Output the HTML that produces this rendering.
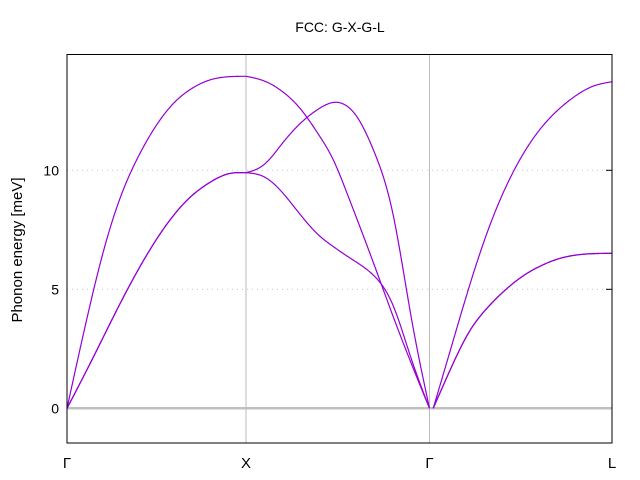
<!DOCTYPE html>
<html><head><meta charset="utf-8"><style>
body{margin:0;background:#fff;}
svg{display:block;font-family:"Liberation Sans",sans-serif;}
</style></head><body>
<svg id="chart" width="640" height="480">
<text x="340" y="32" text-anchor="middle" font-size="14">FCC: G-X-G-L</text>
<text transform="translate(22,250) rotate(-90)" text-anchor="middle" font-size="15">Phonon energy [meV]</text>
<g id="grid"></g><g id="series"></g><g id="axes"></g>
</svg>
<script>
const yTicks=[0,5,10];
const xLabels=["Γ","X","Γ","L"];
const xLabelPos=[0,1,2.025,3.045];
const seg1U=[0,0.1,0.2,0.3,0.4,0.5,0.6,0.7,0.8,0.9,1];
const seg1Upper=[0,3.4,6.5,8.9,10.6,11.9,12.85,13.45,13.8,13.93,13.95];
const seg1Lower=[0,1.45,2.95,4.45,5.85,7.1,8.15,8.95,9.5,9.85,9.9];
const seg2U=[0,0.1,0.2,0.3,0.4,0.475,0.55,0.6,0.7,0.8,0.9,1];
const seg2A=[13.95,13.75,13.3,12.55,11.45,10.45,9.05,8.05,6.0,3.9,1.9,0];
const seg2B=[9.9,10.25,11.15,12.0,12.6,12.85,12.7,12.3,10.75,8.2,3.85,0];
const seg2C=[9.9,9.72,9.05,8.1,7.25,6.8,6.4,6.15,5.55,4.35,2.1,0];
const seg3U=[0,0.1,0.2,0.3,0.4,0.5,0.6,0.7,0.8,0.9,1];
const seg3Upper=[0,2.55,5.08,7.35,9.2,10.65,11.75,12.55,13.15,13.55,13.72];
const seg3Lower=[0,1.7,3.2,4.2,4.95,5.55,5.98,6.28,6.44,6.5,6.51];
const segStart=[0,1,2.046], segEnd=[1,2.025,3.045];

const L=67,R=612,T=54.5,B=443;
const xS=x=>L+x*179;
const yS=e=>408.3-e*23.8;
const NS="http://www.w3.org/2000/svg";
function mk(tag,attrs,parent){const el=document.createElementNS(NS,tag);for(const k in attrs)el.setAttribute(k,attrs[k]);parent.appendChild(el);return el;}
const grid=document.getElementById('grid'),series=document.getElementById('series'),axes=document.getElementById('axes');

yTicks.forEach(t=>{
 if(t===0){const l=mk('line',{x1:L,x2:R,y1:yS(t),y2:yS(t),stroke:'#c0c0c0','stroke-width':2.5},grid);
  
  }
 else{const l=mk('line',{x1:L,x2:R,y1:yS(t),y2:yS(t),stroke:'#c8c8c8','stroke-width':1,'stroke-dasharray':'1,4'},grid);
  
  
  const tk=mk('line',{x1:R-6,x2:R,y1:yS(t),y2:yS(t),stroke:'#000'},axes);
  
  }
 const tx=mk('text',{x:L-8,y:yS(t)+5,'text-anchor':'end','font-size':14},axes);
 tx.textContent=t;
 
 
});
xLabels.forEach((s,i)=>{
 if(i>0&&i<xLabels.length-1){const l=mk('line',{x1:xS(xLabelPos[i]),x2:xS(xLabelPos[i]),y1:T,y2:B,stroke:'#bbb','stroke-width':1},grid);
  
  }
 const tx=mk('text',{x:xS(xLabelPos[i]),y:468,'text-anchor':'middle','font-size':15},axes);
 tx.textContent=s;
 
 
});
const frame=mk('rect',{x:L,y:T,width:R-L,height:B-T,fill:'none',stroke:'#000','stroke-width':1},axes);



// natural cubic spline
function spline(xs,ys){
 const n=xs.length,h=[],al=[],l=[1],mu=[0],z=[0],c=new Array(n).fill(0),b=[],d=[];
 for(let i=0;i<n-1;i++)h[i]=xs[i+1]-xs[i];
 for(let i=1;i<n-1;i++)al[i]=3/h[i]*(ys[i+1]-ys[i])-3/h[i-1]*(ys[i]-ys[i-1]);
 for(let i=1;i<n-1;i++){l[i]=2*(xs[i+1]-xs[i-1])-h[i-1]*mu[i-1];mu[i]=h[i]/l[i];z[i]=(al[i]-h[i-1]*z[i-1])/l[i];}
 for(let j=n-2;j>=0;j--){c[j]=(j>0?z[j]:0)-mu[j]*c[j+1];if(j===0)c[0]=0;b[j]=(ys[j+1]-ys[j])/h[j]-h[j]*(c[j+1]+2*c[j])/3;d[j]=(c[j+1]-c[j])/(3*h[j]);}
 return x=>{let i=0;while(i<n-2&&x>xs[i+1])i++;const dx=x-xs[i];return ys[i]+b[i]*dx+c[i]*dx*dx+d[i]*dx*dx*dx;};
}
function curve(seg,us,vals,name){
 const f=spline(us,vals);
 let d='';
 for(let k=0;k<=200;k++){const u=k/200;
  const px=xS(segStart[seg]+u*(segEnd[seg]-segStart[seg])),py=yS(f(u));
  d+=(k?'L':'M')+px.toFixed(2)+','+py.toFixed(2);}
 const p=mk('path',{d:d,fill:'none',stroke:'#9400d3','stroke-width':1.2,'stroke-linejoin':'round'},series);
 
 
}
curve(0,seg1U,seg1Upper,'branch-gx-upper');
curve(0,seg1U,seg1Lower,'branch-gx-lower');
curve(0,seg1U,seg1Lower,'branch-gx-lower-2');
curve(1,seg2U,seg2A,'branch-xg-a');
curve(1,seg2U,seg2B,'branch-xg-b');
curve(1,seg2U,seg2C,'branch-xg-c');
curve(2,seg3U,seg3Upper,'branch-gl-upper');
curve(2,seg3U,seg3Lower,'branch-gl-lower');
curve(2,seg3U,seg3Lower,'branch-gl-lower-2');
</script>
</body></html>
